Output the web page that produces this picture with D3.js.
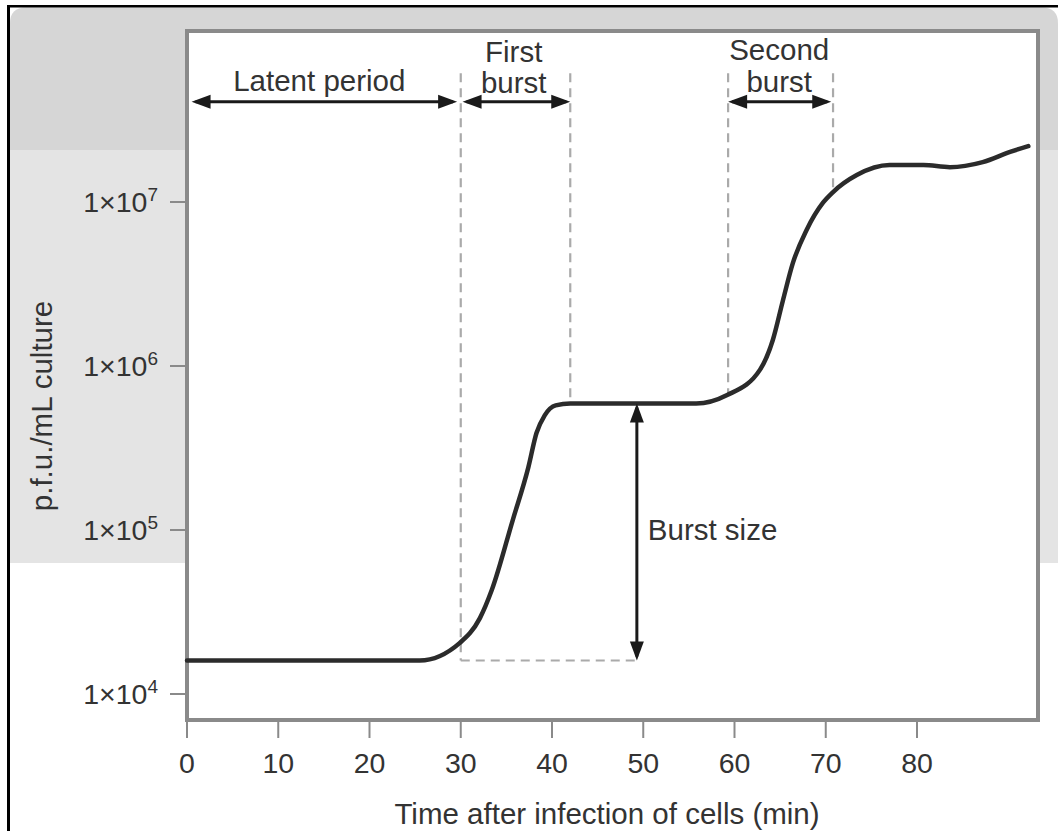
<!DOCTYPE html>
<html><head><meta charset="utf-8">
<script src="https://cdn.jsdelivr.net/npm/d3@7"></script>
<style>html,body{margin:0;padding:0;background:#fff}svg{display:block}</style>
</head><body>
<script>
// ---- data ----
const times = [0, 10, 20, 25.5, 29.9, 32.1, 33.4, 35.7, 37.4, 38.3, 39.2, 40.4, 42, 45, 50, 55.8, 59.2, 62.8, 64.2, 65.3, 66.4, 67.9, 69.7, 70.8, 73.4, 77.0, 80.7, 83.6, 87.2, 90.2, 92.2];
const pfu   = [1.6e4, 1.6e4, 1.6e4, 1.6e4, 2.05e4, 2.9e4, 4.3e4, 1.15e5, 2.4e5, 3.9e5, 5.0e5, 5.75e5, 5.9e5, 5.9e5, 5.9e5, 5.9e5, 6.65e5, 9.5e5, 1.44e6, 2.5e6, 4.25e6, 6.75e6, 9.9e6, 1.15e7, 1.46e7, 1.68e7, 1.68e7, 1.63e7, 1.75e7, 2.02e7, 2.19e7];
const xTicks = [0, 10, 20, 30, 40, 50, 60, 70, 80];
const yTicks = [1e4, 1e5, 1e6, 1e7];
const yTickExp = ["4", "5", "6", "7"];
const xDomain = [0, 93.26];
const yDomain = [6.94e3, 1.103e8];
// annotation values (data units)
const latentStart = 0.5, latentEnd = 29.6;
const burst1Start = 30, burst1End = 42;
const burst2Start = 59.3, burst2End = 70.8;
const burstSizeT = 49.3, burstSizeEndT = 49.5;
const baseLevel = 1.6e4, plateauLevel = 5.9e5;
const burst2Low = 6.65e5, burst2High = 1.15e7;
const arrowLevel = 4.08e7, dashTopLevel = 6.1e7;
const labels = {latent: "Latent period", first: ["First", "burst"], second: ["Second", "burst"], size: "Burst size"};
const labelT = {latent: 14.5, first: 35.8, second: 64.9, size: 50.5};
const sizeLabelLevel = 8.7e4;

// ---- drawing ----
const W = 1058, H = 831;
const svg = d3.select("body").append("svg").attr("width", W).attr("height", H);
const FONT = "'Liberation Sans', Arial, Helvetica, sans-serif";
const FS = 29.5, TFS = 28.5;

svg.append("rect").attr("width", W).attr("height", H).attr("fill", "#fff");
// background bands
const r = 16, bx0 = 10, bx1 = 1058, by0 = 7.5, by1 = 150;
svg.append("path").attr("fill", "#d6d6d6")
  .attr("d", `M${bx0},${by1} L${bx0},${by0 + r} Q${bx0},${by0} ${bx0 + r},${by0} L${bx1 - r},${by0} Q${bx1},${by0} ${bx1},${by0 + r} L${bx1},${by1} Z`);
svg.append("rect").attr("x", bx0).attr("y", by1).attr("width", bx1 - bx0).attr("height", 563 - by1).attr("fill", "#e4e4e4");
// outer black border (left & top)
svg.append("rect").attr("x", 7).attr("y", 5).attr("width", 3).attr("height", H - 5).attr("fill", "#000");
svg.append("rect").attr("x", 7).attr("y", 5).attr("width", W - 7).attr("height", 2.5).attr("fill", "#000");

const L = 187, R = 1038, T = 31, B = 720;
const x = d3.scaleLinear().domain(xDomain).range([L, R]);
const y = d3.scaleLog().domain(yDomain).range([B, T]);

// plot area
svg.append("rect").attr("x", L).attr("y", T).attr("width", R - L).attr("height", B - T)
  .attr("fill", "#fff").attr("stroke", "#8a8a8a").attr("stroke-width", 4);

// x axis ticks
const xa = svg.append("g");
xa.selectAll("line").data(xTicks).join("line")
  .attr("x1", d => x(d)).attr("x2", d => x(d)).attr("y1", B + 2).attr("y2", B + 18)
  .attr("stroke", "#8a8a8a").attr("stroke-width", 2);
xa.selectAll("text").data(xTicks).join("text")
  .attr("x", d => x(d)).attr("y", 773).attr("text-anchor", "middle")
  .attr("font-family", FONT).attr("font-size", TFS).attr("fill", "#333").text(d => d);

// y axis ticks
const ya = svg.append("g");
ya.selectAll("line").data(yTicks).join("line")
  .attr("x1", L - 17).attr("x2", L - 2).attr("y1", d => y(d)).attr("y2", d => y(d))
  .attr("stroke", "#8a8a8a").attr("stroke-width", 2);
const yt = ya.selectAll("text").data(yTicks).join("text")
  .attr("x", 158).attr("y", d => y(d) + 10).attr("text-anchor", "end")
  .attr("font-family", FONT).attr("font-size", TFS).attr("fill", "#333");
yt.append("tspan").text("1×10");
yt.append("tspan").attr("font-size", 19).attr("dy", -11).text((d, i) => yTickExp[i]);

// axis titles
svg.append("text").attr("x", 607).attr("y", 824).attr("text-anchor", "middle")
  .attr("font-family", FONT).attr("font-size", FS).attr("fill", "#333")
  .text("Time after infection of cells (min)");
svg.append("text").attr("transform", "translate(52,406) rotate(-90)").attr("text-anchor", "middle")
  .attr("font-family", FONT).attr("font-size", FS).attr("fill", "#333")
  .text("p.f.u./mL culture");

// dashed guide lines
const dashG = svg.append("g").attr("stroke", "#aaa").attr("stroke-width", 2.2)
  .attr("stroke-dasharray", "9,6").attr("fill", "none");
const dashV = [[burst1Start, dashTopLevel, baseLevel], [burst1End, dashTopLevel, plateauLevel],
               [burst2Start, dashTopLevel, burst2Low], [burst2End, dashTopLevel, burst2High]];
dashG.selectAll("line.v").data(dashV).join("line").attr("class", "v")
  .attr("x1", d => x(d[0])).attr("x2", d => x(d[0])).attr("y1", d => y(d[1])).attr("y2", d => y(d[2]));
dashG.append("line").attr("x1", x(burst1Start)).attr("x2", x(burstSizeEndT))
  .attr("y1", y(baseLevel)).attr("y2", y(baseLevel));

// curve
const pts = times.map((t, i) => [t, pfu[i]]);
svg.append("path").datum(pts)
  .attr("fill", "none").attr("stroke", "#2b2b2b").attr("stroke-width", 4.5).attr("stroke-linecap", "round")
  .attr("d", d3.line().x(d => x(d[0])).y(d => y(d[1])).curve(d3.curveMonotoneX));

// arrows
const AL = 19, AW = 7;
function arrowH(t0, t1, level) {
  const x0 = x(t0), x1 = x(t1), yy = y(level);
  svg.append("line").attr("x1", x0 + 4).attr("x2", x1 - 4).attr("y1", yy).attr("y2", yy)
    .attr("stroke", "#1a1a1a").attr("stroke-width", 3);
  svg.append("path").attr("fill", "#1a1a1a")
    .attr("d", `M${x0},${yy} L${x0 + AL},${yy - AW} L${x0 + AL},${yy + AW} Z`);
  svg.append("path").attr("fill", "#1a1a1a")
    .attr("d", `M${x1},${yy} L${x1 - AL},${yy - AW} L${x1 - AL},${yy + AW} Z`);
}
function arrowV(t, l0, l1) {
  const xx = x(t), y0 = y(l0), y1 = y(l1);
  svg.append("line").attr("x1", xx).attr("x2", xx).attr("y1", y0 + 4).attr("y2", y1 - 4)
    .attr("stroke", "#1a1a1a").attr("stroke-width", 3);
  svg.append("path").attr("fill", "#1a1a1a")
    .attr("d", `M${xx},${y0} L${xx - AW},${y0 + AL} L${xx + AW},${y0 + AL} Z`);
  svg.append("path").attr("fill", "#1a1a1a")
    .attr("d", `M${xx},${y1} L${xx - AW},${y1 - AL} L${xx + AW},${y1 - AL} Z`);
}
arrowH(latentStart, latentEnd, arrowLevel);
arrowH(burst1Start + 0.2, burst1End, arrowLevel);
arrowH(burst2Start, burst2End - 0.2, arrowLevel);
arrowV(burstSizeT, plateauLevel, baseLevel);

// annotation labels
const lab = (tx, ty, s, anchor) => svg.append("text").attr("x", tx).attr("y", ty)
  .attr("text-anchor", anchor || "middle").attr("font-family", FONT).attr("font-size", FS)
  .attr("fill", "#333").text(s);
const ay = y(arrowLevel);
lab(x(labelT.latent), ay - 11, labels.latent);
lab(x(labelT.first), ay - 40, labels.first[0]);
lab(x(labelT.first), ay - 9, labels.first[1]);
lab(x(labelT.second), ay - 42, labels.second[0]);
lab(x(labelT.second), ay - 10, labels.second[1]);
lab(x(labelT.size), y(sizeLabelLevel), labels.size, "start");
</script>
</body></html>
